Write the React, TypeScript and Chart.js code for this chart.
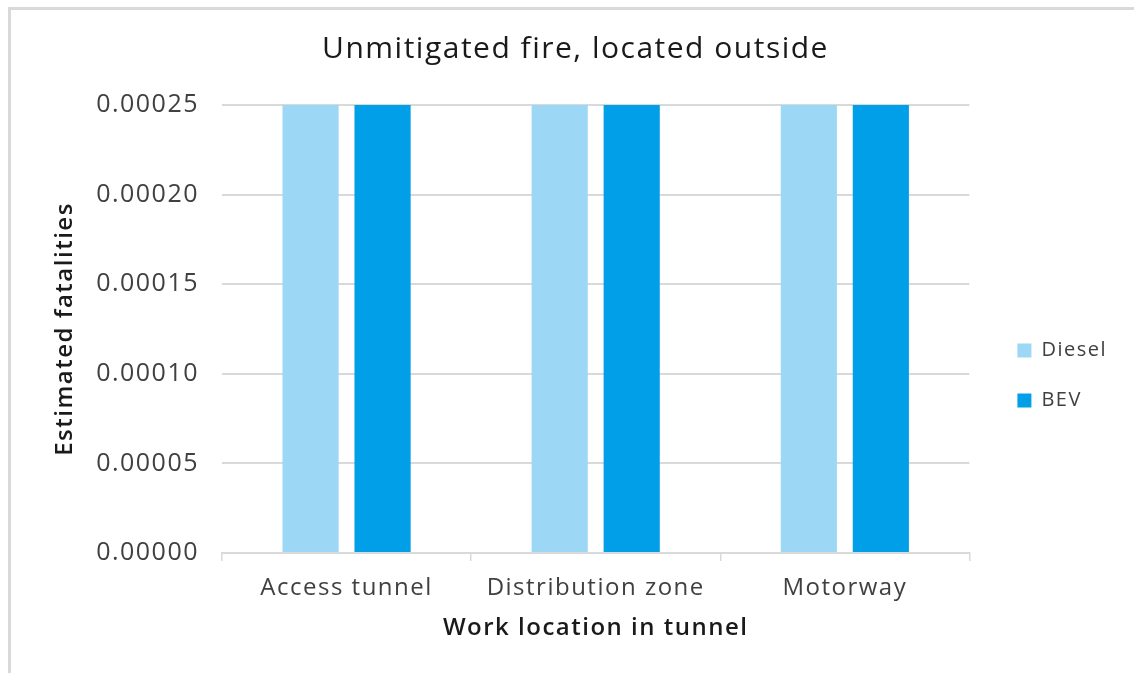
import { useEffect, useRef } from 'react';
import { Chart, registerables } from 'chart.js';

Chart.register(...registerables);

const chartTitle = 'Unmitigated fire, located outside';
const xAxisTitle = 'Work location in tunnel';
const yAxisTitle = 'Estimated fatalities';
const categories = ['Access tunnel', 'Distribution zone', 'Motorway'];
const seriesNames = ['Diesel', 'BEV'];
const dieselValues = [0.00025, 0.00025, 0.00025];
const bevValues = [0.00025, 0.00025, 0.00025];
const yMin = 0;
const yMax = 0.00025;
const yStep = 0.00005;

const FONT = '"Open Sans", "DejaVu Sans", sans-serif';

const spacingPlugin = {
  id: 'letterSpacing',
  beforeUpdate(chart: any) {
    chart.ctx.letterSpacing = '1.5px';
  },
  beforeDraw(chart: any) {
    chart.ctx.letterSpacing = '1.5px';
  },
};

export default function App() {
  const canvasRef = useRef<HTMLCanvasElement | null>(null);

  useEffect(() => {
    document.body.style.margin = '0';
    document.body.style.overflow = 'hidden';
    const canvas = canvasRef.current;
    if (!canvas) return;
    const chart = new Chart(canvas, {
      type: 'bar',
      data: {
        labels: categories,
        datasets: [
          {
            label: seriesNames[0],
            data: dieselValues,
            backgroundColor: '#9dd7f6',
            barPercentage: 0.78,
            categoryPercentage: 0.578,
          },
          {
            label: seriesNames[1],
            data: bevValues,
            backgroundColor: '#009fe8',
            barPercentage: 0.78,
            categoryPercentage: 0.578,
          },
        ],
      },
      plugins: [spacingPlugin],
      options: {
        responsive: false,
        animation: false,
        devicePixelRatio: 1,
        layout: { padding: { top: 0, right: 17, bottom: 0, left: 34 } },
        plugins: {
          title: {
            display: true,
            text: chartTitle,
            color: '#1a1a1a',
            font: { family: FONT, size: 30, weight: 'normal' },
            padding: { top: 31, bottom: 38 },
          },
          legend: {
            position: 'right',
            title: {
              display: true,
              text: '',
              font: { family: FONT, size: 1 },
              padding: { top: 0, bottom: 77 },
            },
            labels: {
              boxWidth: 14,
              boxHeight: 14,
              padding: 30,
              color: '#404040',
              font: { family: FONT, size: 20 },
            },
          },
          tooltip: { enabled: false },
        },
        scales: {
          x: {
            grid: {
              drawOnChartArea: false,
              drawTicks: true,
              tickLength: 8,
              color: '#d9d9d9',
              lineWidth: 1.5,
              offset: true,
            },
            border: { display: true, color: '#d9d9d9', width: 2 },
            ticks: {
              color: '#404040',
              font: { family: FONT, size: 24 },
              padding: 13,
            },
            title: {
              display: true,
              text: xAxisTitle,
              color: '#1a1a1a',
              font: { family: FONT, size: 24, weight: '600' },
              padding: { top: 0, bottom: 30 },
            },
            afterFit: (s: any) => {
              s.height = 120;
            },
          },
          y: {
            min: yMin,
            max: yMax,
            ticks: {
              stepSize: yStep,
              color: '#404040',
              font: { family: FONT, size: 25 },
              padding: 23,
              callback: (v: any) => Number(v).toFixed(5),
            },
            grid: { drawTicks: false, color: '#d9d9d9', lineWidth: 2 },
            border: { display: false },
            title: {
              display: true,
              text: yAxisTitle,
              color: '#1a1a1a',
              font: { family: FONT, size: 24, weight: '600' },
              padding: { top: 17, bottom: 0 },
            },
            afterFit: (s: any) => {
              s.width = 188;
            },
          },
          yRight: {
            type: 'linear',
            position: 'right',
            display: true,
            grid: { display: false },
            ticks: { display: false },
            border: { display: false },
            afterFit: (s: any) => {
              s.width = 18;
            },
          },
        },
      },
    } as any);
    return () => chart.destroy();
  }, []);

  return (
    <div style={{ position: 'relative', width: 1134, height: 673, background: '#fff' }}>
      <div
        style={{
          position: 'absolute',
          left: 8,
          top: 7,
          width: 1126,
          height: 666,
          boxSizing: 'border-box',
          borderTop: '3px solid #d9d9d9',
          borderLeft: '3px solid #d9d9d9',
        }}
      />
      <canvas
        ref={canvasRef}
        width={1134}
        height={673}
        style={{ position: 'absolute', left: 0, top: 0, width: 1134, height: 673 }}
      />
    </div>
  );
}
